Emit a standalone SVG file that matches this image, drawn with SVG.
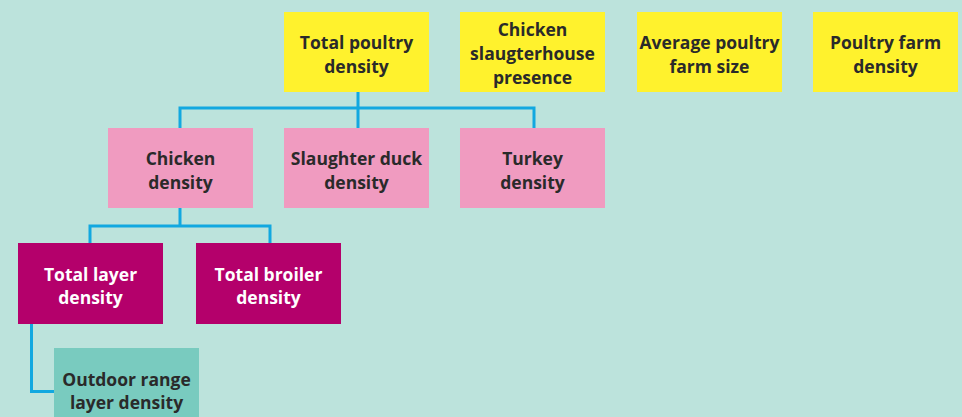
<svg xmlns="http://www.w3.org/2000/svg" width="962" height="417" viewBox="0 0 962 417">
<style>
.y{fill:#fff22d}.p{fill:#f09bc0}.m{fill:#b4006b}.t{fill:#79cbbf}
text{font-family:"Open Sans","Noto Sans","DejaVu Sans",sans-serif;font-weight:700;font-size:17.5px;text-anchor:middle;fill:#2a2a2a}
.w{fill:#ffffff}
.c{fill:none;stroke:#12a8e0;stroke-width:3}
</style>
<rect width="962" height="417" fill="#bce3dc"/>
<g id="connectors">
<path class="c" d="M358 92V108M180 128V108H534V128M358 108V128"/>
<path class="c" d="M180 208V226M90 243V226H270V243"/>
<path class="c" d="M31.5 324V391.5H54"/>
</g>
<g id="total-poultry"><rect class="y" x="284" y="12" width="145" height="80"/><text x="356.5" y="49">Total poultry</text><text x="356.5" y="73">density</text></g>
<g id="slaughterhouse"><rect class="y" x="460" y="12" width="145" height="80"/><text x="532.5" y="36">Chicken</text><text x="532.5" y="60">slaugterhouse</text><text x="532.5" y="84">presence</text></g>
<g id="farm-size"><rect class="y" x="637" y="12" width="145" height="80"/><text x="709.5" y="49">Average poultry</text><text x="709.5" y="73">farm size</text></g>
<g id="farm-density"><rect class="y" x="813" y="12" width="145" height="80"/><text x="885.5" y="49">Poultry farm</text><text x="885.5" y="73">density</text></g>
<g id="chicken"><rect class="p" x="108" y="128" width="145" height="80"/><text x="180.5" y="165">Chicken</text><text x="180.5" y="189">density</text></g>
<g id="duck"><rect class="p" x="284" y="128" width="145" height="80"/><text x="356.5" y="165">Slaughter duck</text><text x="356.5" y="189">density</text></g>
<g id="turkey"><rect class="p" x="460" y="128" width="145" height="80"/><text x="532.5" y="165">Turkey</text><text x="532.5" y="189">density</text></g>
<g id="layer"><rect class="m" x="18" y="243" width="145" height="81"/><text class="w" x="90.5" y="281">Total layer</text><text class="w" x="90.5" y="304">density</text></g>
<g id="broiler"><rect class="m" x="196" y="243" width="145" height="81"/><text class="w" x="268.5" y="281">Total broiler</text><text class="w" x="268.5" y="304">density</text></g>
<g id="outdoor"><rect class="t" x="54" y="348" width="145" height="80"/><text x="126.5" y="386">Outdoor range</text><text x="126.5" y="409">layer density</text></g>
</svg>
